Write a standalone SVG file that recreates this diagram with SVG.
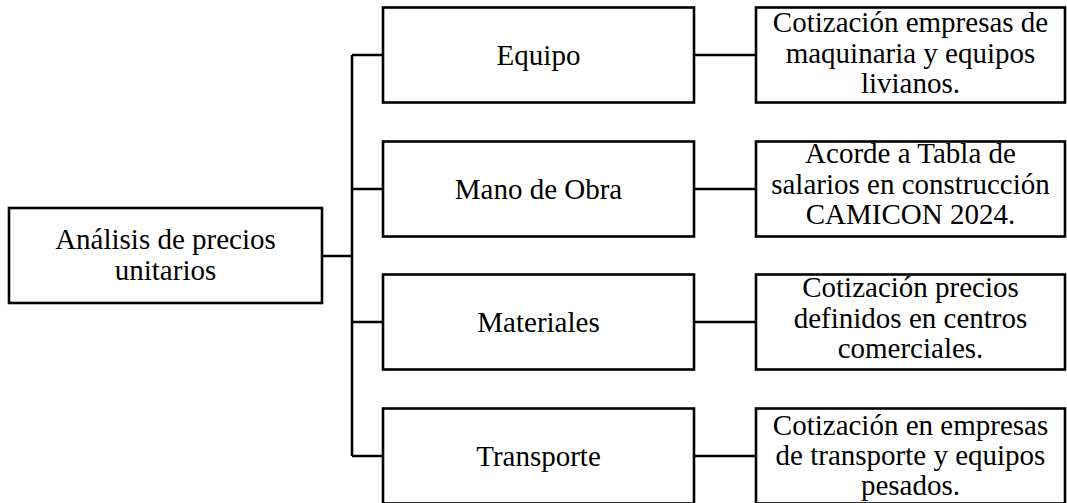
<svg xmlns="http://www.w3.org/2000/svg" width="1067" height="503" viewBox="0 0 1067 503">
<style>
.box{fill:#fff;stroke:#000;stroke-width:2.6}
.ln{fill:none;stroke:#000;stroke-width:2.6}
.t{font-family:"Liberation Serif","Times New Roman",serif;font-size:29px;fill:#000;text-anchor:middle}
</style>
<rect width="1067" height="503" fill="#fff"/>
<g id="connectors">
<path class="ln" d="M322 256H352M352 55V456M352 55H383M352 189H383M352 322H383M352 456H383M694 55H756M694 189H756M694 322H756M694 456H756"/>
</g>
<g id="n-apu">
<rect class="box" x="9" y="208" width="313" height="95"/>
<text class="t" x="165.5" y="249">Análisis de precios</text>
<text class="t" x="165.5" y="280">unitarios</text>
</g>
<g id="n-equipo">
<rect class="box" x="383" y="7.5" width="311" height="95"/>
<text class="t" x="538.5" y="64.5">Equipo</text>
</g>
<g id="n-mano">
<rect class="box" x="383" y="141.5" width="311" height="95"/>
<text class="t" x="538.5" y="198.5">Mano de Obra</text>
</g>
<g id="n-materiales">
<rect class="box" x="383" y="274.5" width="311" height="95"/>
<text class="t" x="538.5" y="331.5">Materiales</text>
</g>
<g id="n-transporte">
<rect class="box" x="383" y="408.5" width="311" height="95"/>
<text class="t" x="538.5" y="465.5">Transporte</text>
</g>
<g id="d-equipo">
<rect class="box" x="756" y="7.5" width="309" height="95"/>
<text class="t" x="910.5" y="32">Cotización empresas de</text>
<text class="t" x="910.5" y="62.5">maquinaria y equipos</text>
<text class="t" x="910.5" y="93">livianos.</text>
</g>
<g id="d-mano">
<rect class="box" x="756" y="141.5" width="309" height="95"/>
<text class="t" x="910.5" y="163">Acorde a Tabla de</text>
<text class="t" x="910.5" y="193.5">salarios en construcción</text>
<text class="t" x="910.5" y="224">CAMICON 2024.</text>
</g>
<g id="d-materiales">
<rect class="box" x="756" y="274.5" width="309" height="95"/>
<text class="t" x="910.5" y="297">Cotización precios</text>
<text class="t" x="910.5" y="327.5">definidos en centros</text>
<text class="t" x="910.5" y="358">comerciales.</text>
</g>
<g id="d-transporte">
<rect class="box" x="756" y="408.5" width="309" height="95"/>
<text class="t" x="910.5" y="435">Cotización en empresas</text>
<text class="t" x="910.5" y="465">de transporte y equipos</text>
<text class="t" x="910.5" y="495">pesados.</text>
</g>
</svg>
